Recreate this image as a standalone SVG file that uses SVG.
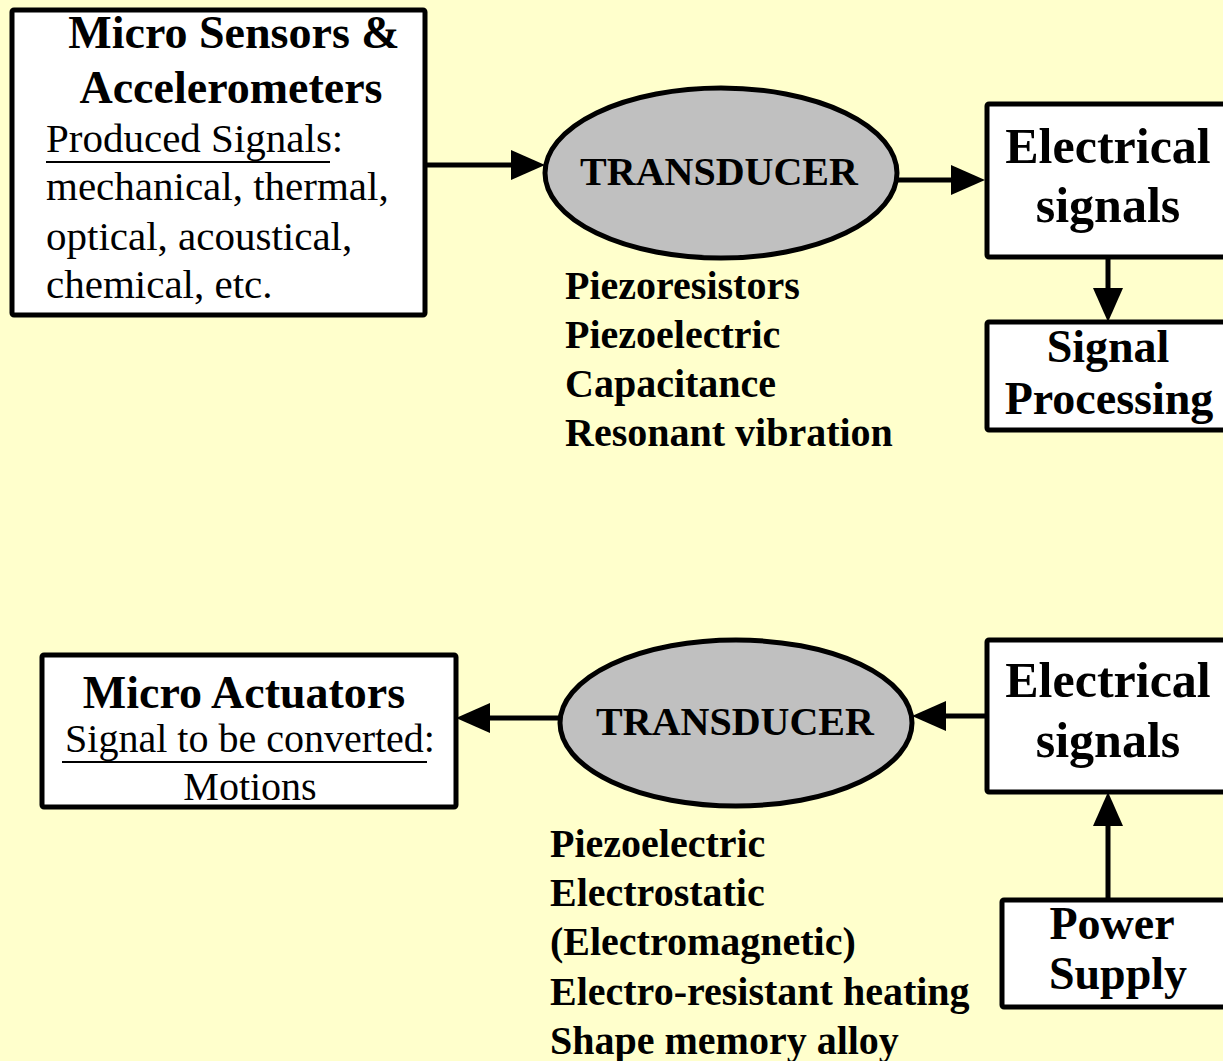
<svg xmlns="http://www.w3.org/2000/svg" width="1223" height="1061" viewBox="0 0 1223 1061">
<defs>
<style>
.box{fill:#fff;stroke:#000;stroke-width:5;stroke-linejoin:round}
.ell{fill:#c0c0c0;stroke:#000;stroke-width:5}
.con{stroke:#000;stroke-width:5;fill:none}
.b{font-family:"Liberation Serif","Times New Roman",serif;font-weight:bold;fill:#000}
.r{font-family:"Liberation Serif","Times New Roman",serif;fill:#000}
.ul{stroke:#000;stroke-width:2}
</style>
<marker id="ah" viewBox="0 0 34 30" refX="14" refY="15" markerWidth="34" markerHeight="30" markerUnits="userSpaceOnUse" orient="auto">
<path d="M0,0 L34,15 L0,30 z" fill="#000"/>
</marker>
</defs>
<rect width="1223" height="1061" fill="#ffffcc"/>

<g id="connectors">
<line class="con" x1="425" y1="165" x2="525" y2="165" marker-end="url(#ah)"/>
<line class="con" x1="897" y1="180" x2="965" y2="180" marker-end="url(#ah)"/>
<line class="con" x1="1108" y1="257" x2="1108" y2="302" marker-end="url(#ah)"/>
<line class="con" x1="560" y1="718" x2="476" y2="718" marker-end="url(#ah)"/>
<line class="con" x1="987" y1="716" x2="932" y2="716" marker-end="url(#ah)"/>
<line class="con" x1="1108" y1="900" x2="1108" y2="812" marker-end="url(#ah)"/>
</g>

<g id="sensors">
<rect class="box" x="12" y="10" width="413" height="305" rx="2"/>
<text class="b" font-size="46" x="234" y="48" text-anchor="middle">Micro Sensors &amp;</text>
<text class="b" font-size="46" x="231" y="103" text-anchor="middle">Accelerometers</text>
<text class="r" font-size="41" x="46" y="152">Produced Signals:</text>
<line class="ul" x1="46" y1="162" x2="330" y2="162"/>
<text class="r" font-size="41" x="46" y="200">mechanical, thermal,</text>
<text class="r" font-size="41" x="46" y="250">optical, acoustical,</text>
<text class="r" font-size="41" x="46" y="298">chemical, etc.</text>
</g>

<g id="transducer1">
<ellipse class="ell" cx="721" cy="173" rx="176" ry="85"/>
<text class="b" font-size="40" x="719" y="185" text-anchor="middle">TRANSDUCER</text>
</g>

<g id="sensor-list">
<text class="b" font-size="40" x="565" y="299">Piezoresistors</text>
<text class="b" font-size="40" x="565" y="348">Piezoelectric</text>
<text class="b" font-size="40" x="565" y="397">Capacitance</text>
<text class="b" font-size="40" x="565" y="446">Resonant vibration</text>
</g>

<g id="elec1">
<rect class="box" x="987" y="104" width="250" height="153" rx="2"/>
<text class="b" font-size="50" x="1108" y="163" text-anchor="middle">Electrical</text>
<text class="b" font-size="50" x="1108" y="222" text-anchor="middle">signals</text>
</g>

<g id="sigproc">
<rect class="box" x="987" y="322" width="250" height="108" rx="2"/>
<text class="b" font-size="46" x="1108" y="362" text-anchor="middle">Signal</text>
<text class="b" font-size="46" x="1109" y="414" text-anchor="middle">Processing</text>
</g>

<g id="actuators">
<rect class="box" x="42" y="655" width="414" height="152" rx="2"/>
<text class="b" font-size="46" x="244" y="708" text-anchor="middle">Micro Actuators</text>
<text class="r" font-size="40" x="250" y="752" text-anchor="middle">Signal to be converted:</text>
<line class="ul" x1="62" y1="762" x2="427" y2="762"/>
<text class="r" font-size="40" x="250" y="800" text-anchor="middle">Motions</text>
</g>

<g id="transducer2">
<ellipse class="ell" cx="736" cy="723" rx="176" ry="83"/>
<text class="b" font-size="40" x="735" y="735" text-anchor="middle">TRANSDUCER</text>
</g>

<g id="actuator-list">
<text class="b" font-size="40" x="550" y="857">Piezoelectric</text>
<text class="b" font-size="40" x="550" y="906">Electrostatic</text>
<text class="b" font-size="40" x="550" y="955">(Electromagnetic)</text>
<text class="b" font-size="40" x="550" y="1005">Electro-resistant heating</text>
<text class="b" font-size="40" x="550" y="1054">Shape memory alloy</text>
</g>

<g id="elec2">
<rect class="box" x="987" y="640" width="250" height="152" rx="2"/>
<text class="b" font-size="50" x="1108" y="697" text-anchor="middle">Electrical</text>
<text class="b" font-size="50" x="1108" y="757" text-anchor="middle">signals</text>
</g>

<g id="power">
<rect class="box" x="1002" y="900" width="235" height="107" rx="2"/>
<text class="b" font-size="46" x="1112" y="939" text-anchor="middle">Power</text>
<text class="b" font-size="46" x="1118" y="989" text-anchor="middle">Supply</text>
</g>
</svg>
